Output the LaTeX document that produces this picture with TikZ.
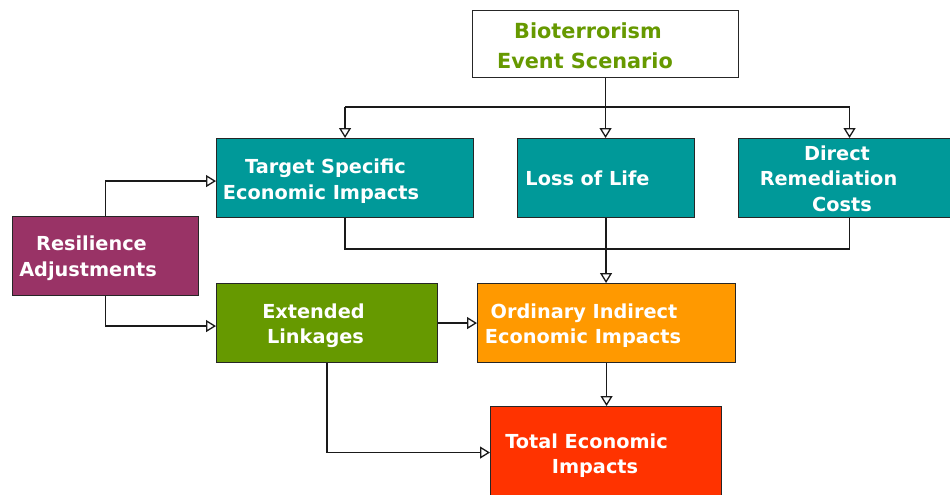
\documentclass[tikz,border=0pt]{standalone}
\usepackage{fontspec}
\setmainfont{DejaVu Sans}
\usetikzlibrary{arrows.meta,calc}

\definecolor{tealbox}{HTML}{009999}
\definecolor{maroonbox}{HTML}{993366}
\definecolor{greenbox}{HTML}{669900}
\definecolor{orangebox}{HTML}{FF9900}
\definecolor{redbox}{HTML}{FF3300}
\definecolor{titlegreen}{HTML}{669900}
\definecolor{wire}{HTML}{1A1A1A}

\tikzset{
  box/.style={draw=black!85, line width=1.1pt, inner sep=0pt, anchor=north west},
  label/.style={inner sep=0pt, anchor=base, text=white,
    font=\bfseries\fontsize{19.3}{23}\selectfont},
  title/.style={label, text=titlegreen, font=\bfseries\fontsize{20.8}{25}\selectfont},
  wireline/.style={draw=wire, line width=1.6pt},
  arr/.style={wireline, -{Triangle[open, length=10pt, width=12pt, line width=1.3pt]}},
}

\begin{document}
\begin{tikzpicture}[x=1pt, y=-1pt]
\useasboundingbox (0,0) rectangle (950,495);
\fill[white] (0,0) rectangle (950,495);

% boxes (top-left corner, size in px)
\node[box, fill=white, minimum width=266pt, minimum height=67pt] (bio) at (472,10) {};
\node[box, fill=tealbox, minimum width=257pt, minimum height=79pt] (tse) at (216,138) {};
\node[box, fill=tealbox, minimum width=177pt, minimum height=79pt] (lol) at (517,138) {};
\node[box, fill=tealbox, minimum width=222pt, minimum height=79pt] (drc) at (738,138) {};
\node[box, fill=maroonbox, minimum width=186pt, minimum height=79pt] (res) at (12,216) {};
\node[box, fill=greenbox, minimum width=221pt, minimum height=79pt] (ext) at (216,283) {};
\node[box, fill=orangebox, minimum width=258pt, minimum height=79pt] (oie) at (477,283) {};
\node[box, fill=redbox, minimum width=231pt, minimum height=92pt] (tei) at (490,406) {};

% texts, one node per printed line
\node[title] (bioA) at (588,39) {Bioterrorism};
\node[title] (bioB) at (585,68) {Event Scenario};
\node[label] (tseA) at (325.5,173) {Target Specific};
\node[label] (tseB) at (321,199) {Economic Impacts};
\node[label] (lolA) at (587.5,185) {Loss of Life};
\node[label] (drcA) at (837,160) {Direct};
\node[label] (drcB) at (828.5,185) {Remediation};
\node[label] (drcC) at (842,211) {Costs};
\node[label] (resA) at (91.5,250) {Resilience};
\node[label] (resB) at (88,276) {Adjustments};
\node[label] (extA) at (313.5,318) {Extended};
\node[label] (extB) at (315.5,343) {Linkages};
\node[label] (oieA) at (584,318) {Ordinary Indirect};
\node[label] (oieB) at (583,343) {Economic Impacts};
\node[label] (teiA) at (586.5,448) {Total Economic};
\node[label] (teiB) at (595,473) {Impacts};

% distribution bus below the scenario
\coordinate (bus) at (605,107);
\coordinate (low) at (605,249);
\draw[wireline] (bio.south) -- (bio.south |- bus);
\draw[wireline] (bus -| tse.north) -- (bus -| drc.north);
\draw[arr] (bus -| tse.north) -- (tse.north);
\draw[arr] (bus -| bio.south) -- (bio.south |- lol.north);
\draw[arr] (bus -| drc.north) -- (drc.north);

% collecting bus into indirect impacts
\draw[wireline] (tse.south) -- (tse.south |- low) -- (drc.south |- low) -- (drc.south);
\draw[arr] (lol.south) -- (lol.south |- oie.north);

% resilience feedback
\draw[arr] (res.north) |- ([yshift=-3pt]tse.west);
\draw[arr] (res.south) |- ([yshift=-3pt]ext.west);

% lower chain
\draw[arr] (ext.east) -- (ext.east -| oie.west);
\draw[arr] (oie.south) -- (oie.south |- tei.north);
\draw[arr] (ext.south) |- (tei.west);
\end{tikzpicture}
\end{document}
